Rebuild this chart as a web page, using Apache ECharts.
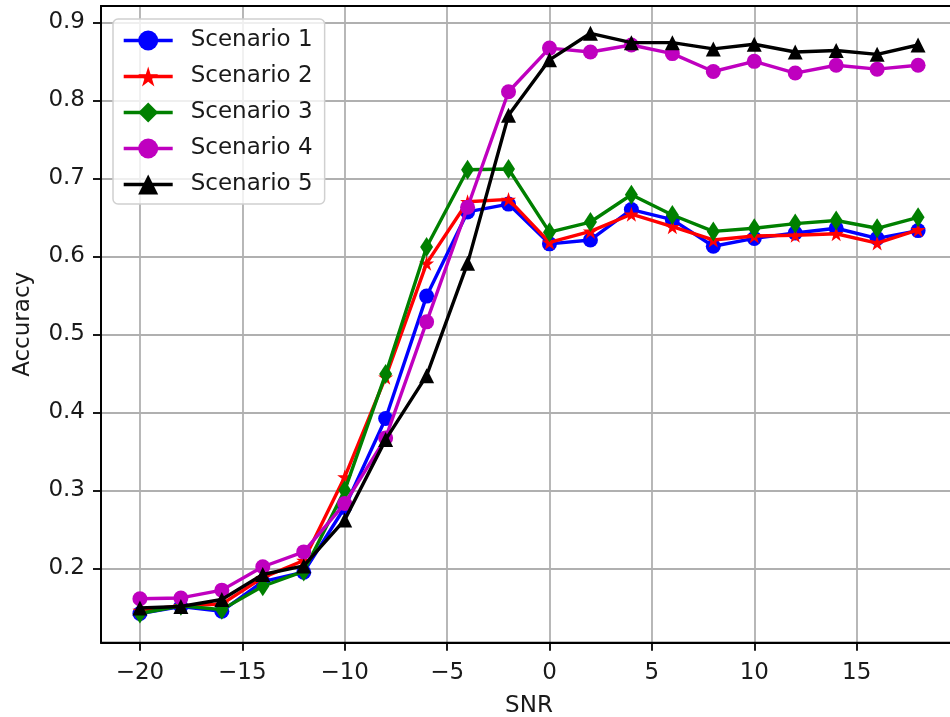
<!DOCTYPE html>
<html>
<head>
<meta charset="utf-8">
<script src="https://cdn.jsdelivr.net/npm/echarts@6/dist/echarts.min.js"></script>
<style>html,body{margin:0;padding:0;background:#fff;}#c{width:950px;height:717px;}</style>
</head>
<body>
<div id="c"></div>
<script>
const snr = [-20,-18,-16,-14,-12,-10,-8,-6,-4,-2,0,2,4,6,8,10,12,14,16,18];
const scenario1 = [0.142,0.151,0.145,0.183,0.195,0.278,0.392,0.549,0.657,0.667,0.616,0.621,0.660,0.647,0.613,0.623,0.630,0.636,0.623,0.633];
const scenario2 = [0.146,0.152,0.154,0.188,0.210,0.317,0.445,0.591,0.670,0.673,0.618,0.632,0.654,0.638,0.621,0.626,0.627,0.629,0.617,0.634];
const scenario3 = [0.142,0.152,0.147,0.177,0.196,0.300,0.449,0.612,0.711,0.712,0.631,0.644,0.679,0.653,0.632,0.636,0.642,0.646,0.636,0.650];
const scenario4 = [0.161,0.162,0.172,0.202,0.221,0.283,0.367,0.516,0.663,0.811,0.867,0.862,0.871,0.860,0.837,0.850,0.835,0.845,0.840,0.845];
const scenario5 = [0.149,0.151,0.160,0.192,0.203,0.262,0.365,0.447,0.591,0.781,0.852,0.886,0.874,0.874,0.866,0.872,0.862,0.864,0.859,0.871];
const xTicks = [-20,-15,-10,-5,0,5,10,15];
const yTicks = [0.2,0.3,0.4,0.5,0.6,0.7,0.8,0.9];
const names = ['Scenario 1','Scenario 2','Scenario 3','Scenario 4','Scenario 5'];

const FONT = 'DejaVu Sans';
const star = 'path://M0,-1000 L224.5,-309 L951,-309 L363,118 L588,809 L0,382 L-588,809 L-363,118 L-951,-309 L-224.5,-309 Z';
const styles = [
  {color:'#0000ff', symbol:'circle', size:15},
  {color:'#ff0000', symbol:star, size:15},
  {color:'#008000', symbol:'diamond', size:[13,20]},
  {color:'#bf00bf', symbol:'circle', size:15},
  {color:'#000000', symbol:'triangle', size:15}
];
const values = [scenario1, scenario2, scenario3, scenario4, scenario5];

const series = values.map((v, i) => ({
  name: names[i],
  type: 'line',
  data: snr.map((x, j) => [x, v[j]]),
  symbol: styles[i].symbol,
  symbolSize: styles[i].size,
  showAllSymbol: true,
  lineStyle: {color: styles[i].color, width: 3.4},
  itemStyle: {color: styles[i].color, borderWidth: 0, opacity: 1},
  emphasis: {disabled: true},
  animation: false,
  z: 3 + i
}));

const chart = echarts.init(document.getElementById('c'), null, {renderer: 'canvas'});
chart.setOption({
  animation: false,
  backgroundColor: '#ffffff',
  grid: {left: 101, top: 6, width: 856, bottom: 74.3, outerBoundsMode: 'none', containLabel: false,
    show: true, borderColor: '#000', borderWidth: 1.8, backgroundColor: 'transparent', z: 10},
  legend: {
    orient: 'vertical', left: 113, top: 19,
    data: names,
    itemWidth: 49, itemHeight: 25, itemGap: 13,
    padding: [10, 12, 8, 9],
    backgroundColor: 'rgba(255,255,255,0.8)',
    borderColor: '#d0d0d0', borderWidth: 1.5, borderRadius: 5,
    lineStyle: {width: 3.4},
    textStyle: {fontFamily: FONT, fontSize: 23, color: '#1a1a1a', padding: [0, 0, 0, 13]},
    z: 20
  },
  xAxis: {
    type: 'value', min: -21.9, max: 19.9,
    name: 'SNR', nameLocation: 'middle', nameGap: 52,
    nameTextStyle: {fontFamily: FONT, fontSize: 23, color: '#1a1a1a'},
    axisLine: {show: true, onZero: false, lineStyle: {color: '#000', width: 1.8}},
    axisTick: {show: true, inside: false, length: 8, lineStyle: {color: '#000', width: 1.8}, customValues: xTicks},
    axisLabel: {fontFamily: FONT, fontSize: 23, color: '#1a1a1a', margin: 19, customValues: xTicks,
      formatter: v => String(v).replace('-', '\u2212')},
    splitLine: {show: true, lineStyle: {color: '#b0b0b0', width: 1.8}}
  },
  yAxis: {
    type: 'value', min: 0.1046, max: 0.921,
    name: 'Accuracy', nameLocation: 'middle', nameGap: 66, nameRotate: 90,
    nameTextStyle: {fontFamily: FONT, fontSize: 23, color: '#1a1a1a'},
    axisLine: {show: true, onZero: false, lineStyle: {color: '#000', width: 1.8}},
    axisTick: {show: true, inside: false, length: 8, lineStyle: {color: '#000', width: 1.8}, customValues: yTicks},
    axisLabel: {fontFamily: FONT, fontSize: 23, color: '#1a1a1a', margin: 16, customValues: yTicks,
      formatter: v => v.toFixed(1)},
    splitLine: {show: true, lineStyle: {color: '#b0b0b0', width: 1.8}}
  },
  series: series
});
</script>
</body>
</html>
